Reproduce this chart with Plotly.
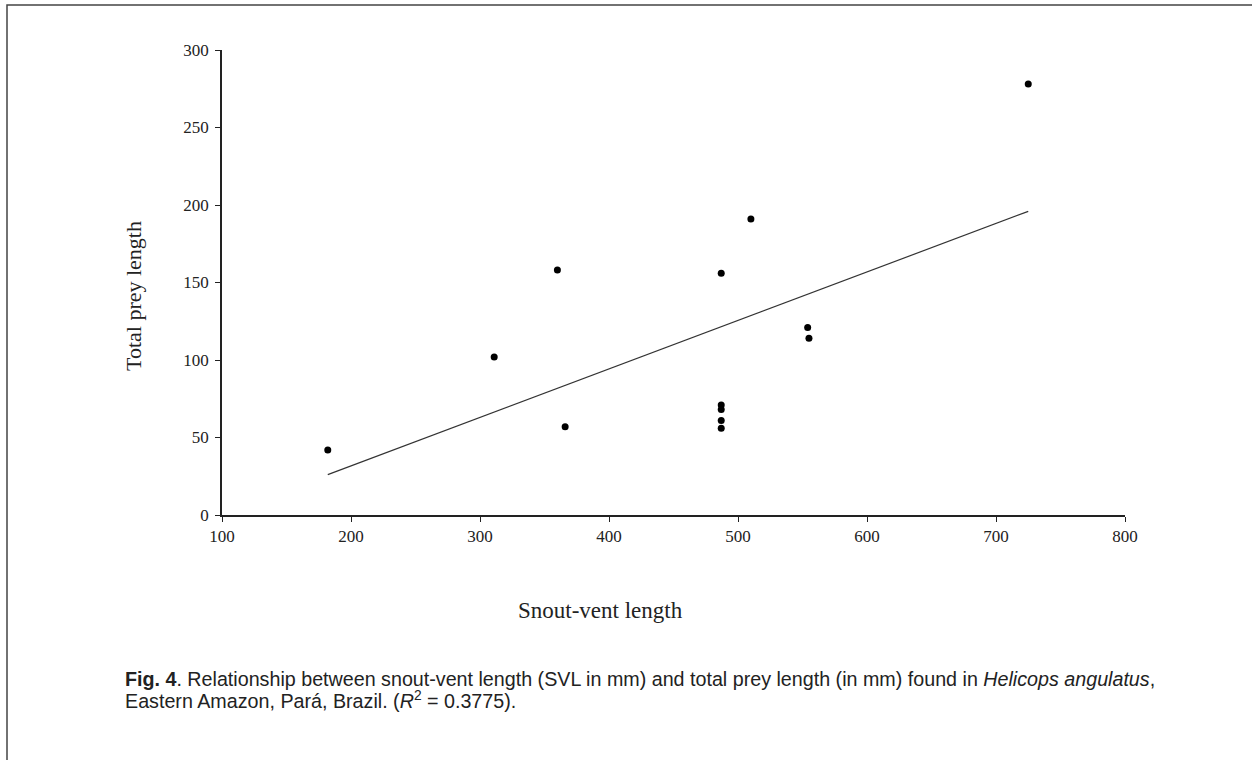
import numpy as np
import plotly.graph_objects as go

# Data
svl = [182, 311, 360, 366, 487, 487, 487, 487, 487, 510, 554, 555, 725]
prey = [42, 102, 158, 57, 156, 71, 68, 61, 56, 191, 121, 114, 278]
x_ticks = [100, 200, 300, 400, 500, 600, 700, 800]
y_ticks = [0, 50, 100, 150, 200, 250, 300]

slope, intercept = np.polyfit(svl, prey, 1)
fit_x = [min(svl), max(svl)]
fit_y = [slope * v + intercept for v in fit_x]

W, H = 1252, 760
L, R, T, B = 222, 1125, 50, 515  # plot area pixel edges

fig = go.Figure()
fig.add_trace(go.Scatter(x=fit_x, y=fit_y, mode="lines",
                         line=dict(color="#333333", width=1.2), showlegend=False))
fig.add_trace(go.Scatter(x=svl, y=prey, mode="markers",
                         marker=dict(color="black", size=7), showlegend=False))

serif = "Liberation Serif, Times New Roman, serif"
axis_common = dict(showline=True, linecolor="#222222", linewidth=1.5, ticks="outside",
                   ticklen=5, tickwidth=1.2, tickcolor="#222222", showgrid=False,
                   zeroline=False, tickfont=dict(family=serif, size=17, color="#222222"))
fig.update_xaxes(range=[100, 800], tickvals=x_ticks, ticklabelstandoff=0, **axis_common)
fig.update_yaxes(range=[0, 300], tickvals=y_ticks, ticklabelstandoff=3, **axis_common)

pw, ph = R - L, B - T
def px2x(px): return (px - L) / pw
def py2y(py): return (B - py) / ph

fig.add_annotation(text="Total prey length", x=px2x(133), y=py2y(296), xref="paper", yref="paper",
                   xanchor="center", yanchor="middle",
                   textangle=-90, showarrow=False, font=dict(family=serif, size=22, color="#222222"))
fig.add_annotation(text="Snout-vent length", x=px2x(600), y=py2y(610), xref="paper", yref="paper",
                   xanchor="center", yanchor="middle",
                   showarrow=False, font=dict(family=serif, size=23, color="#222222"))

sans = "Liberation Sans, Arial, sans-serif"
cap_lines = [
    "<b>Fig. 4</b>. Relationship between snout-vent length (SVL in mm) and total prey length (in mm) found in <i>Helicops angulatus</i>,",
    "Eastern Amazon, Pará, Brazil. (<i>R</i><sup>2</sup> = 0.3775).",
]
for i, line in enumerate(cap_lines):
    fig.add_annotation(text=line, x=px2x(123), y=py2y(679 + 21 * i), xref="paper", yref="paper",
                       xanchor="left", yanchor="middle", align="left", showarrow=False,
                       font=dict(family=sans, size=19.7, color="#222222"))

# outer frame
fig.add_shape(type="rect", xref="paper", yref="paper",
              x0=px2x(7), x1=px2x(1300), y0=py2y(800), y1=py2y(5),
              line=dict(color="#444444", width=1.5))

fig.update_layout(width=W, height=H, margin=dict(l=L, r=W - R, t=T, b=H - B),
                  plot_bgcolor="white", paper_bgcolor="white")
fig.write_html("out.html", config={"displayModeBar": False},
               post_script="document.body.style.margin='0';document.body.style.overflow='hidden';")
